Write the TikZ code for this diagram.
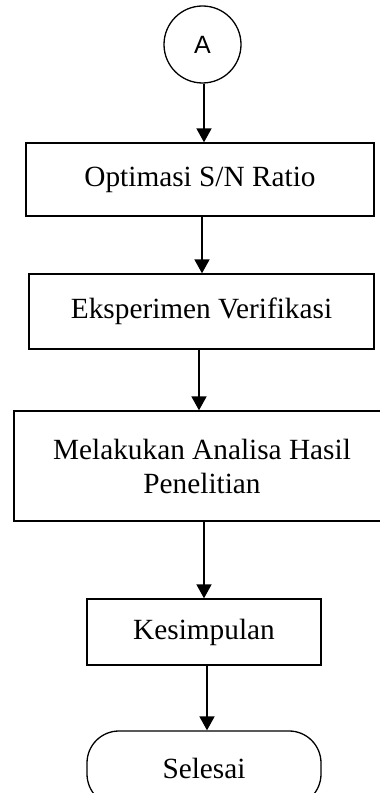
\documentclass[tikz,border=0pt]{standalone}
\usepackage{fontspec}
\setmainfont{Liberation Serif}
\newfontfamily\sansA{Liberation Sans}
\usetikzlibrary{arrows.meta}
\begin{document}
\begin{tikzpicture}[x=1pt,y=1pt,
  box/.style={draw,line width=1.3pt,rectangle,inner sep=0pt,align=center,
    font=\fontsize{29.3}{34}\selectfont},
  term/.style={box,rounded corners=32pt},
  conn/.style={circle,draw,line width=1.3pt,inner sep=0pt,minimum size=77pt,
    font=\sansA\fontsize{25}{30}\selectfont},
  flow/.style={line width=1.8pt,-{Triangle[width=15pt,length=14pt]}}]
\useasboundingbox (0,0) rectangle (380,793);
\clip (0,0) rectangle (380,793);
\node[conn] (A) at (202.5,748.5) {A};
\node[box,minimum width=348pt,minimum height=73pt] (b1) at (200,613.5) {\raisebox{4pt}{Optimasi S/N Ratio}};
\node[box,minimum width=345pt,minimum height=75pt] (b2) at (201.5,481.5) {\raisebox{2pt}{Eksperimen Verifikasi}};
\node[box,minimum width=376pt,minimum height=110pt] (b3) at (202,327) {Melakukan Analisa Hasil\\Penelitian};
\node[box,minimum width=234pt,minimum height=66pt] (b4) at (204,161) {Kesimpulan};
\node[term,minimum width=234pt,minimum height=75pt] (end) at (204,24.5) {Selesai};
\draw[flow] ([xshift=1.5pt]A.south) -- ([xshift=1.5pt]A.south |- b1.north);
\draw[flow] ([xshift=2pt]b1.south) -- ([xshift=2pt]b1.south |- b2.north);
\draw[flow] ([xshift=-2.5pt]b2.south) -- ([xshift=-2.5pt]b2.south |- b3.north);
\draw[flow] ([xshift=2pt]b3.south) -- ([xshift=2pt]b3.south |- b4.north);
\draw[flow] ([xshift=3pt]b4.south) -- ([xshift=3pt]b4.south |- end.north);
\end{tikzpicture}
\end{document}
